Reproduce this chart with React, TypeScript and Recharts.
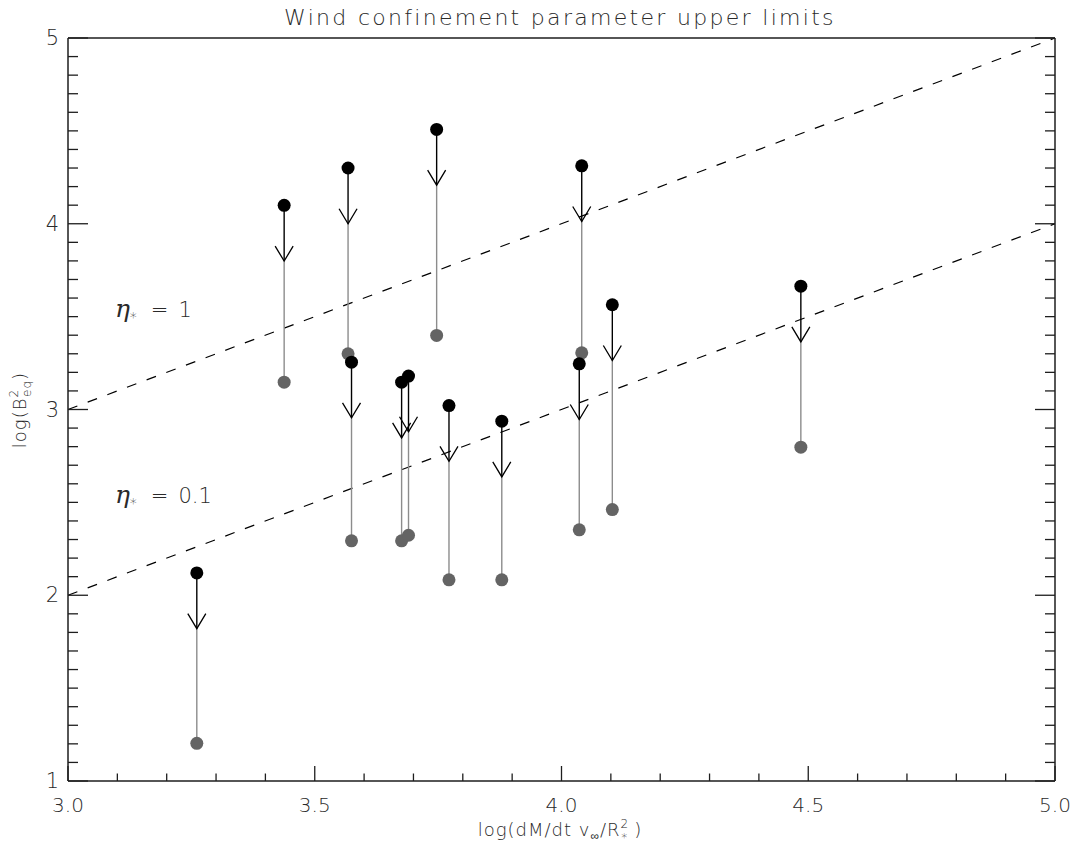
import React from 'react'
import { ComposedChart, Scatter, XAxis, YAxis, ReferenceLine } from 'recharts'

const W = 1082
const H = 849
const FONT = '"DejaVu Sans", Verdana, sans-serif'
const AXIS = '#1e1e1e'
const TXT = '#2a2a2a'
const GRAY_DOT = '#646464'
const GRAY_LINE = '#8c8c8c'

// stars: log(dM/dt v_inf / R*^2)
const starX = [3.261, 3.438, 3.5675, 3.5745, 3.676, 3.690, 3.747, 3.772, 3.879, 4.036, 4.041, 4.103, 4.485]
// upper limits on log(B_eq^2) (black)
const upperLim = [2.120, 4.099, 4.300, 3.255, 3.147, 3.180, 4.508, 3.021, 2.937, 3.246, 4.312, 3.564, 3.664]
// lower values (gray)
const lowerVal = [1.203, 3.147, 3.300, 2.293, 2.293, 2.323, 3.399, 2.083, 2.083, 2.352, 3.305, 2.461, 2.797]
const ARROW_LEN = 0.3

// eta_* = 1 and eta_* = 0.1 lines
const etaX = [3.0, 5.0]
const eta1Y = [3.0, 5.0]
const eta01Y = [2.0, 4.0]
const etaLabels = [
  { x: 3.095, y: 3.535, val: '1' },
  { x: 3.095, y: 2.535, val: '0.1' },
]

const xTicks = [
  3.0, 3.1, 3.2, 3.3, 3.4, 3.5, 3.6, 3.7, 3.8, 3.9,
  4.0, 4.1, 4.2, 4.3, 4.4, 4.5, 4.6, 4.7, 4.8, 4.9, 5.0,
]
const yTicks = [
  1.0, 1.1, 1.2, 1.3, 1.4, 1.5, 1.6, 1.7, 1.8, 1.9,
  2.0, 2.1, 2.2, 2.3, 2.4, 2.5, 2.6, 2.7, 2.8, 2.9,
  3.0, 3.1, 3.2, 3.3, 3.4, 3.5, 3.6, 3.7, 3.8, 3.9,
  4.0, 4.1, 4.2, 4.3, 4.4, 4.5, 4.6, 4.7, 4.8, 4.9, 5.0,
]

const blackPts = starX.map((x, i) => ({ x, y: upperLim[i] }))
const grayPts = starX.map((x, i) => ({ x, y: lowerVal[i] }))
const tipPts = starX.map((x, i) => ({ x, y: upperLim[i] - ARROW_LEN }))

const textStyle = { fontFamily: FONT, fontWeight: 300, fill: TXT }

const makeXTick = (side: 'bottom' | 'top') => (props: any) => {
  const { x, y, payload } = props
  const v = payload.value
  const major = Math.abs(v * 2 - Math.round(v * 2)) < 1e-6
  const len = major ? 15 : 7.5
  const dir = side === 'bottom' ? -1 : 1
  return (
    <g>
      <line x1={x} x2={x} y1={y} y2={y + dir * len} stroke={AXIS} strokeWidth={1.3} />
      {side === 'bottom' && major && (
        <text x={x} y={y + 31} textAnchor="middle" fontSize={20} style={textStyle}>{v.toFixed(1)}</text>
      )}
    </g>
  )
}

const makeYTick = (side: 'left' | 'right') => (props: any) => {
  const { x, y, payload } = props
  const v = payload.value
  const major = Math.abs(v - Math.round(v)) < 1e-6
  const len = major ? 20 : 10
  const dir = side === 'left' ? 1 : -1
  return (
    <g>
      <line x1={x} x2={x + dir * len} y1={y} y2={y} stroke={AXIS} strokeWidth={1.3} />
      {side === 'left' && major && (
        <text x={x - 9} y={y + 7} textAnchor="end" fontSize={21} style={textStyle}>{String(Math.round(v))}</text>
      )}
    </g>
  )
}

const BlackDot = (p: any) => <circle cx={p.cx} cy={p.cy} r={6.5} fill="#000" />
const GrayDot = (p: any) => <circle cx={p.cx} cy={p.cy} r={6.5} fill={GRAY_DOT} />
const ArrowHead = (p: any) => (
  <path d={`M${p.cx - 9},${p.cy - 15} L${p.cx},${p.cy} L${p.cx + 9},${p.cy - 15}`} fill="none" stroke="#000" strokeWidth={1.3} />
)
const EtaLabel = (p: any) => (
  <text x={p.cx} y={p.cy + 7} fontSize={21} style={textStyle}>
    <tspan fontStyle="italic" fontSize={25} fontFamily='"DejaVu Serif", serif'>η</tspan>
    <tspan dy={5} fontSize={14}>*</tspan>
    <tspan dy={-5} dx={14}>=</tspan>
    <tspan dx={10}>{p.payload.val}</tspan>
  </text>
)

export default function App() {
  return (
    <div style={{ position: 'absolute', left: 0, top: 0, width: W, height: H, background: '#fff' }}>
      <ComposedChart width={W} height={H} margin={{ top: 36, right: 25, bottom: 0, left: 0 }}>
        <XAxis
          xAxisId={0} type="number" dataKey="x" domain={[3, 5]} ticks={xTicks} interval={0}
          height={68} tickLine={false} tickSize={0} tickMargin={0}
          axisLine={{ stroke: AXIS, strokeWidth: 1.5 }} tick={makeXTick('bottom')} allowDataOverflow
        />
        <XAxis
          xAxisId="top" orientation="top" type="number" domain={[3, 5]} ticks={xTicks} interval={0}
          height={2} tickLine={false} tickSize={0} tickMargin={0}
          axisLine={{ stroke: AXIS, strokeWidth: 1.5 }} tick={makeXTick('top')} allowDataOverflow
        />
        <YAxis
          yAxisId={0} type="number" dataKey="y" domain={[1, 5]} ticks={yTicks} interval={0}
          width={68} tickLine={false} tickSize={0} tickMargin={0}
          axisLine={{ stroke: AXIS, strokeWidth: 1.5 }} tick={makeYTick('left')} allowDataOverflow
        />
        <YAxis
          yAxisId="right" orientation="right" type="number" domain={[1, 5]} ticks={yTicks} interval={0}
          width={2} tickLine={false} tickSize={0} tickMargin={0}
          axisLine={{ stroke: AXIS, strokeWidth: 1.5 }} tick={makeYTick('right')} allowDataOverflow
        />

        <ReferenceLine
          segment={[{ x: etaX[0], y: eta1Y[0] }, { x: etaX[1], y: eta1Y[1] }]}
          stroke="#000" strokeWidth={1.2} strokeDasharray="10 11" ifOverflow="visible"
        />
        <ReferenceLine
          segment={[{ x: etaX[0], y: eta01Y[0] }, { x: etaX[1], y: eta01Y[1] }]}
          stroke="#000" strokeWidth={1.2} strokeDasharray="10 11" ifOverflow="visible"
        />

        {starX.map((x, i) => (
          <ReferenceLine
            key={`g${i}`}
            segment={[{ x, y: upperLim[i] - ARROW_LEN }, { x, y: lowerVal[i] }]}
            stroke={GRAY_LINE} strokeWidth={1.4}
          />
        ))}
        {starX.map((x, i) => (
          <ReferenceLine
            key={`b${i}`}
            segment={[{ x, y: upperLim[i] }, { x, y: upperLim[i] - ARROW_LEN }]}
            stroke="#000" strokeWidth={1.4}
          />
        ))}

        <Scatter data={grayPts} shape={GrayDot} isAnimationActive={false} />
        <Scatter data={blackPts} shape={BlackDot} isAnimationActive={false} />
        <Scatter data={tipPts} shape={ArrowHead} isAnimationActive={false} />
        <Scatter data={etaLabels} shape={EtaLabel} isAnimationActive={false} />
      </ComposedChart>

      <svg width={W} height={H} style={{ position: 'absolute', left: 0, top: 0, pointerEvents: 'none' }}>
        <text x={560} y={25} textAnchor="middle" fontSize={22} letterSpacing={2.3} style={textStyle}>
          Wind confinement parameter upper limits
        </text>
        <text x={560} y={836} textAnchor="middle" fontSize={18} letterSpacing={1} style={textStyle}>
          log(dM/dt v<tspan dy={4} fontSize={12}>∞</tspan>
          <tspan dy={-4}>/R</tspan>
          <tspan dy={-8} fontSize={12}>2</tspan>
          <tspan dx={-8} dy={14} fontSize={12}>*</tspan>
          <tspan dx={6} dy={-6}>)</tspan>
        </text>
        <text x={26} y={410} textAnchor="middle" fontSize={18} letterSpacing={1} transform="rotate(-90 26 410)" style={textStyle}>
          log(B<tspan dy={-8} fontSize={12}>2</tspan>
          <tspan dx={-8} dy={13} fontSize={12}>eq</tspan>
          <tspan dy={-5}>)</tspan>
        </text>
      </svg>
    </div>
  )
}
